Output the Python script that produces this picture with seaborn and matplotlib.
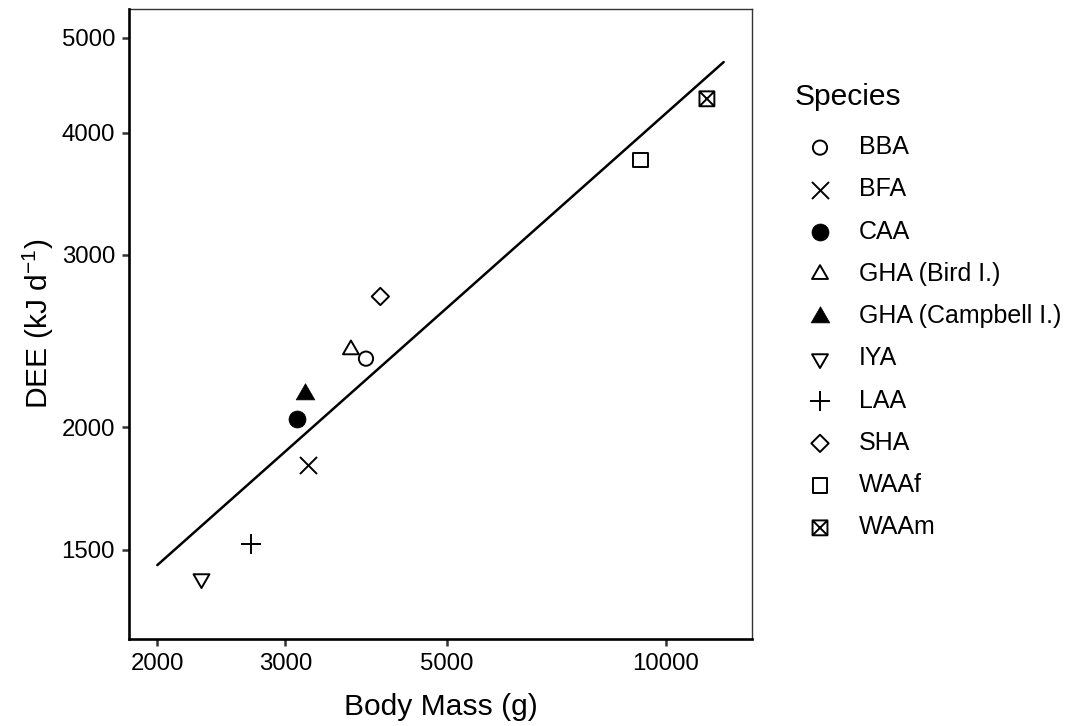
import numpy as np
import pandas as pd
import matplotlib
matplotlib.use("Agg")
import matplotlib.pyplot as plt
from matplotlib.path import Path
import seaborn as sns

# Field metabolic rate versus body mass for albatross groups
species = ["BBA", "BFA", "CAA", "GHA (Bird I.)", "GHA (Campbell I.)",
           "IYA", "LAA", "SHA", "WAAf", "WAAm"]
body_mass = [3870, 3220, 3110, 3690, 3190, 2300, 2690, 4050, 9230, 11380]
dee = [2350, 1830, 2040, 2400, 2160, 1400, 1520, 2720, 3750, 4330]

# Allometric fit drawn across the mass range
fit_mass = [2000, 12000]
fit_dee = [1446, 4721]

x_limits = [2000, 12000]
y_limits = [1300, 5000]
x_ticks = [2000, 3000, 5000, 10000]
y_ticks = [1500, 2000, 3000, 4000, 5000]

df = pd.DataFrame({"species": species, "mass": body_mass, "dee": dee})
fit = pd.DataFrame({"mass": fit_mass, "dee": fit_dee})

sns.set_theme(style="white")
plt.rcParams["font.family"] = ["Liberation Sans", "DejaVu Sans"]
plt.rcParams["mathtext.default"] = "regular"
plt.rcParams["text.color"] = "black"
plt.rcParams["axes.labelcolor"] = "black"

# Marker paths in the style of R plotting symbols
tri_up = Path([(0, 1.555), (1.347, -0.778), (-1.347, -0.778), (0, 1.555)],
              [Path.MOVETO, Path.LINETO, Path.LINETO, Path.CLOSEPOLY])
tri_down = Path([(0, -1.555), (1.347, 0.778), (-1.347, 0.778), (0, -1.555)],
                [Path.MOVETO, Path.LINETO, Path.LINETO, Path.CLOSEPOLY])
diamond = Path([(0, 1), (1, 0), (0, -1), (-1, 0), (0, 1)],
               [Path.MOVETO, Path.LINETO, Path.LINETO, Path.LINETO, Path.CLOSEPOLY])
box_x = Path([(-1, -1), (1, -1), (1, 1), (-1, 1), (-1, -1),
              (-1, -1), (1, 1), (-1, 1), (1, -1)],
             [Path.MOVETO, Path.LINETO, Path.LINETO, Path.LINETO, Path.CLOSEPOLY,
              Path.MOVETO, Path.LINETO, Path.MOVETO, Path.LINETO])

# marker, size (pt^2), filled
styles = {
    "BBA": ("o", 105, False),
    "BFA": ("x", 150, None),
    "CAA": ("o", 150, True),
    "GHA (Bird I.)": (tri_up, 175, False),
    "GHA (Campbell I.)": (tri_up, 240, True),
    "IYA": (tri_down, 175, False),
    "LAA": ("+", 207, None),
    "SHA": (diamond, 155, False),
    "WAAf": ("s", 115, False),
    "WAAm": (box_x, 115, False),
}

fig = plt.figure(figsize=(10.68, 7.26), dpi=100)
ax = fig.add_axes([129 / 1068, 1 - 639 / 726, 623 / 1068, 630 / 726])

sns.lineplot(data=fit, x="mass", y="dee", color="black", linewidth=1.8,
             ax=ax, legend=False, zorder=2)

for sp in species:
    marker, size, filled = styles[sp]
    sub = df[df["species"] == sp]
    if filled is None:
        sns.scatterplot(data=sub, x="mass", y="dee", marker=marker, s=size,
                        color="black", linewidth=1.4, ax=ax, label=sp, zorder=3)
    elif filled:
        sns.scatterplot(data=sub, x="mass", y="dee", marker=marker, s=size,
                        color="black", facecolor="black", edgecolor="black",
                        linewidth=0.5, ax=ax, label=sp, zorder=3)
    else:
        sns.scatterplot(data=sub, x="mass", y="dee", marker=marker, s=size,
                        color="black", facecolor="none", edgecolor="black",
                        linewidth=1.4, ax=ax, label=sp, zorder=3)

ax.set_xscale("log")
ax.set_yscale("log")

# ggplot-like 5% expansion on the log scale
def expand(lims, frac=0.05):
    lo, hi = np.log10(lims[0]), np.log10(lims[1])
    d = (hi - lo) * frac
    return 10 ** (lo - d), 10 ** (hi + d)

ax.set_xlim(*expand(x_limits))
ax.set_ylim(*expand(y_limits))

ax.xaxis.set_major_locator(matplotlib.ticker.FixedLocator(x_ticks))
ax.yaxis.set_major_locator(matplotlib.ticker.FixedLocator(y_ticks))
ax.xaxis.set_minor_locator(matplotlib.ticker.NullLocator())
ax.yaxis.set_minor_locator(matplotlib.ticker.NullLocator())
ax.set_xticklabels([str(v) for v in x_ticks])
ax.set_yticklabels([str(v) for v in y_ticks])

ax.tick_params(axis="both", which="major", direction="out", length=5,
               width=1.8, color="#333333", labelsize=17.3, labelcolor="black",
               pad=5, bottom=True, left=True)

for side in ["left", "bottom"]:
    ax.spines[side].set_linewidth(1.9)
    ax.spines[side].set_color("black")
for side in ["top", "right"]:
    ax.spines[side].set_linewidth(1.0)
    ax.spines[side].set_color("#333333")
ax.spines["left"].set_zorder(4)

ax.set_xlabel("Body Mass (g)", fontsize=21.6, color="black")
ax.set_ylabel(r"DEE (kJ d$^{-1}$)", fontsize=21.6, color="black")
ax.xaxis.set_label_coords(0.5, -0.086)
ax.yaxis.set_label_coords(-0.117, 0.5)

leg = ax.legend(title="Species", loc="upper left",
                bbox_to_anchor=(795 / 1068, 1 - 83 / 726),
                bbox_transform=fig.transFigure, frameon=False,
                borderpad=0, borderaxespad=0, handlelength=2.0,
                handletextpad=0.55, labelspacing=0.73,
                fontsize=18, title_fontsize=21.6, alignment="left")
leg._legend_box.sep = 17.4
for t in leg.get_texts():
    t.set_color("black")
leg.get_title().set_color("black")

fig.savefig("out.png", dpi=100, facecolor="white")
